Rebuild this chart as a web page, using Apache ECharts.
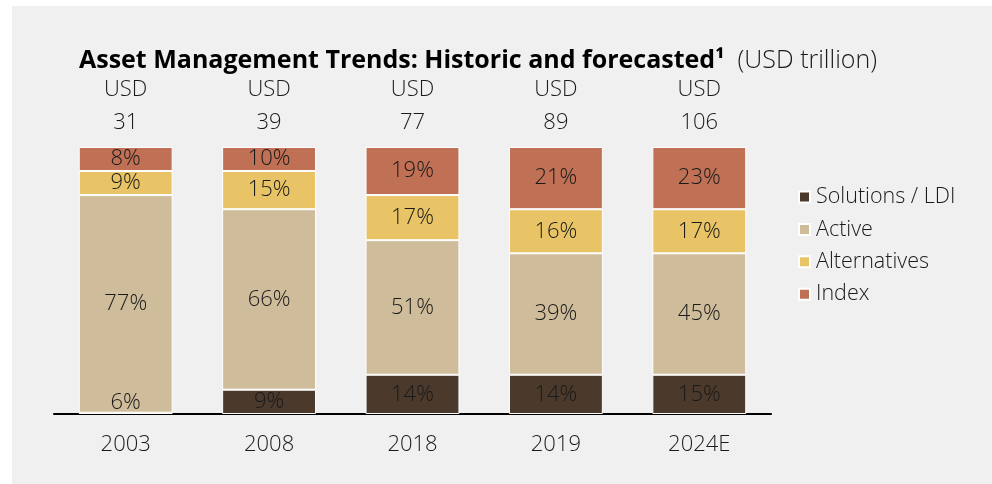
<!DOCTYPE html>
<html>
<head>
<meta charset="utf-8">
<script src="https://cdn.jsdelivr.net/npm/echarts@6/dist/echarts.min.js"></script>
<style>
  html, body { margin: 0; padding: 0; background: #ffffff; }
  #wrap { position: absolute; left: 12px; top: 6px; right: 0; bottom: 0; background: #f0f0f0; }
  #chart { position: absolute; left: 0; top: 0; width: 992px; height: 484px; }
</style>
</head>
<body>
<div id="wrap"></div>
<div id="chart"></div>
<script>
// ---- data (shares of each bar as drawn, in %; printed labels kept separately) ----
const categories = ['2003', '2008', '2018', '2019', '2024E'];
const totals = ['31', '39', '77', '89', '106'];          // USD trillion
const seriesNames = ['Solutions / LDI', 'Active', 'Alternatives', 'Index'];

const solutionsShare    = [0.5, 9.1, 14.7, 14.7, 14.7];
const activeShare       = [81.5, 67.6, 50.4, 45.5, 45.5];
const alternativesShare = [9.0, 14.3, 16.9, 16.5, 16.5];
const indexShare        = [9.0, 9.0, 18.0, 23.3, 23.3];

const solutionsLabels    = ['6%', '9%', '14%', '14%', '15%'];
const activeLabels       = ['77%', '66%', '51%', '39%', '45%'];
const alternativesLabels = ['9%', '15%', '17%', '16%', '17%'];
const indexLabels        = ['8%', '10%', '19%', '21%', '23%'];

const colors = ['#4b3a2c', '#cfbc9a', '#e8c466', '#bf7055'];
const FONT = '"Open Sans", "Noto Sans", sans-serif';
const TXT = '#1a1a1a';

const chart = echarts.init(document.getElementById('chart'), null, { renderer: 'canvas' });

function makeSeries(name, values, labels, color) {
  return {
    name: name,
    type: 'bar',
    stack: 'total',
    xAxisIndex: 0,
    barCategoryGap: '34.5%',
    itemStyle: { color: color, borderColor: '#ffffff', borderWidth: 1 },
    label: {
      show: true,
      position: 'inside',
      color: TXT,
      fontFamily: FONT,
      fontSize: 22,
      fontWeight: 300,
      formatter: (p) => labels[p.dataIndex]
    },
    emphasis: { disabled: true },
    data: values.map((v) => v < 3
      ? { value: v, label: { position: 'top', distance: -1 } }
      : v)
  };
}

const option = {
  animation: false,
  backgroundColor: 'transparent',
  color: colors,
  title: {
    left: 74,
    top: 40,
    text: '{b|Asset Management Trends: Historic and forecasted\u00b9}{n|  (USD trillion)}',
    textStyle: {
      rich: {
        b: { fontFamily: FONT, fontSize: 25, fontWeight: 'bold', color: '#000', lineHeight: 32 },
        n: { fontFamily: FONT, fontSize: 25, fontWeight: 300, color: '#1a1a1a', lineHeight: 32 }
      }
    }
  },
  legend: {
    orient: 'vertical',
    left: 793,
    top: 181,
    itemWidth: 11,
    itemHeight: 11,
    itemGap: 10.4,
    icon: 'rect',
    data: seriesNames,
    textStyle: { fontFamily: FONT, fontSize: 21.5, fontWeight: 300, color: TXT, padding: [0, 0, 0, 1], lineHeight: 22 },
    selectedMode: false
  },
  grid: { left: 54, top: 147, width: 717, height: 267 },
  xAxis: [
    {
      type: 'category',
      data: categories,
      position: 'bottom',
      axisLine: { show: true, lineStyle: { color: '#000', width: 2 } },
      axisTick: { show: false },
      axisLabel: { margin: 20, color: TXT, fontFamily: FONT, fontSize: 22, fontWeight: 300, lineHeight: 22 }
    },
    {
      type: 'category',
      data: totals,
      position: 'top',
      axisLine: { show: false },
      axisTick: { show: false },
      axisLabel: {
        margin: 8,
        color: TXT,
        fontFamily: FONT,
        fontSize: 22,
        fontWeight: 300,
        lineHeight: 33,
        formatter: (v) => 'USD\n' + v
      }
    }
  ],
  yAxis: { type: 'value', min: 0, max: 100, show: false },
  series: [
    makeSeries(seriesNames[0], solutionsShare, solutionsLabels, colors[0]),
    makeSeries(seriesNames[1], activeShare, activeLabels, colors[1]),
    makeSeries(seriesNames[2], alternativesShare, alternativesLabels, colors[2]),
    makeSeries(seriesNames[3], indexShare, indexLabels, colors[3])
  ]
};
chart.setOption(option);
</script>
</body>
</html>
